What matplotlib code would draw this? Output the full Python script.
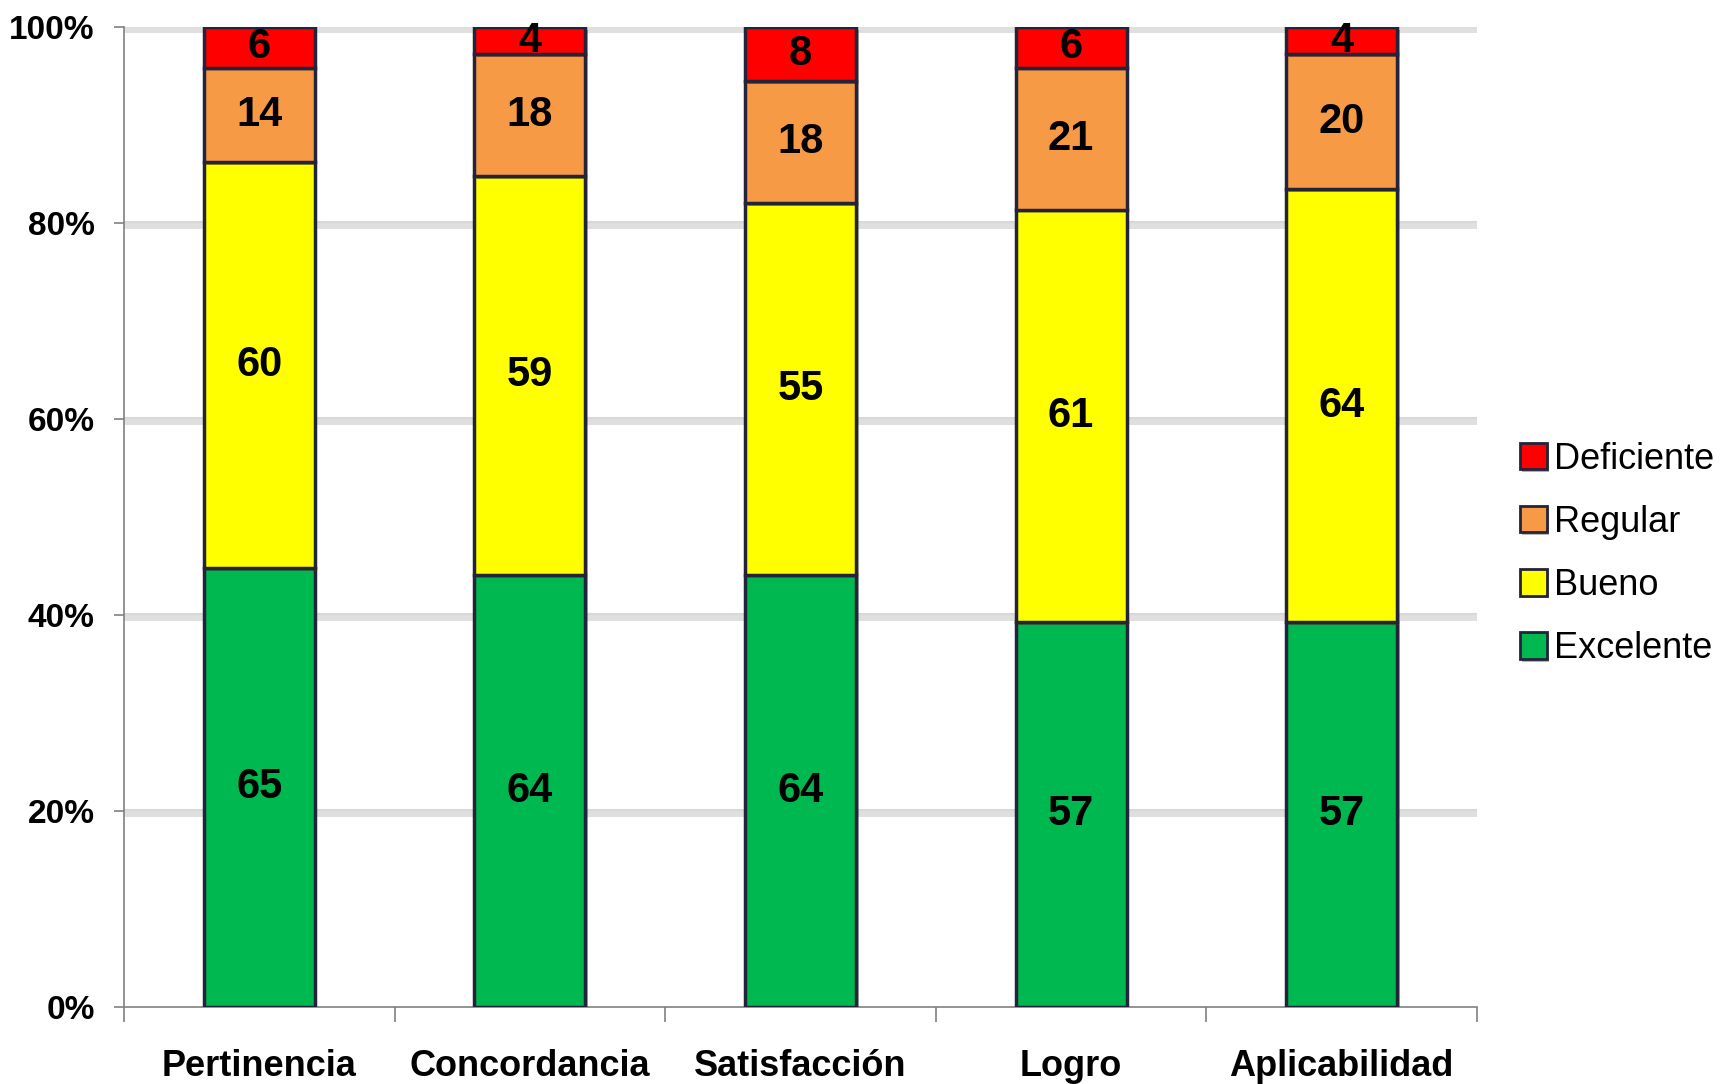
import matplotlib.pyplot as plt
import numpy as np
from matplotlib.ticker import PercentFormatter
import matplotlib.patheffects as pe

categories = ["Pertinencia", "Concordancia", "Satisfacción", "Logro", "Aplicabilidad"]
series = ["Excelente", "Bueno", "Regular", "Deficiente"]
excelente = [65, 64, 64, 57, 57]
bueno = [60, 59, 55, 61, 64]
regular = [14, 18, 18, 21, 20]
deficiente = [6, 4, 8, 6, 4]
colors = ["#00B850", "#FFFF00", "#F79A46", "#FF0000"]

counts = np.array([excelente, bueno, regular, deficiente], dtype=float)
totals = counts.sum(axis=0)
shares = counts / totals * 100

fig = plt.figure(figsize=(17.26, 10.84), dpi=100)
ax = fig.add_axes([0.0718, 0.071, 0.7839, 0.904])

x = np.arange(len(categories))
bottom = np.zeros(len(categories))
containers = []
for name, vals, cnt, col in zip(series, shares, counts, colors):
    bars = ax.bar(x, vals, bottom=bottom, width=0.41, color=col,
                  edgecolor="#23233a", linewidth=2.5, label=name, zorder=3)
    for b in bars:
        b.set_path_effects([pe.SimplePatchShadow(offset=(2, -2), alpha=0.35), pe.Normal()])
    ax.bar_label(bars, labels=[f"{int(c)}" for c in cnt], label_type="center",
                 fontsize=30, fontweight="bold", family=["Liberation Sans", "DejaVu Sans"],
                 color="black", zorder=4)
    containers.append(bars)
    bottom += vals

ax.set_xlim(-0.5, len(categories) - 0.5)
ax.set_ylim(0, 100)
ax.set_yticks(np.arange(0, 101, 20))
ax.yaxis.set_major_formatter(PercentFormatter(decimals=0))

# horizontal grid with a soft shadow underneath
for yv in np.arange(20, 101, 20):
    ax.axhline(yv - 0.2, color="#c0c0c0", lw=5, zorder=1, alpha=0.5)
    ax.axhline(yv + 0.1, color="#d8d8d8", lw=1.5, zorder=1.1)

ax.set_xticks(x)
ax.set_xticklabels(categories)
ax.set_xticks(np.arange(-0.5, len(categories)), minor=True)
ax.tick_params(axis="x", which="major", length=0, pad=30)
ax.tick_params(axis="x", which="minor", length=11, width=1.2, color="#808080", direction="out")
ax.tick_params(axis="y", length=7, width=1.2, color="#808080", pad=14)

for lab in ax.get_xticklabels():
    lab.set_family(["Liberation Sans", "DejaVu Sans"])
    lab.set_fontsize(26)
    lab.set_fontweight("bold")
for lab in ax.get_yticklabels():
    lab.set_family(["Liberation Sans", "DejaVu Sans"])
    lab.set_fontsize(24)
    lab.set_fontweight("bold")

for side in ("top", "right"):
    ax.spines[side].set_visible(False)
for side in ("left", "bottom"):
    ax.spines[side].set_color("#808080")
    ax.spines[side].set_linewidth(1.2)

handles = containers[::-1]
leg = fig.legend([h[0] for h in handles], series[::-1], loc="center left",
                 bbox_to_anchor=(0.872, 0.489), frameon=False,
                 prop={"family": ["Liberation Sans", "DejaVu Sans"], "size": 26},
                 handlelength=0.75, handleheight=0.75, handletextpad=0.2,
                 labelspacing=0.78, borderaxespad=0)
for h in leg.legend_handles:
    h.set_edgecolor("#23233a")
    h.set_linewidth(2)

fig.savefig("out.png", dpi=100, facecolor="white")
